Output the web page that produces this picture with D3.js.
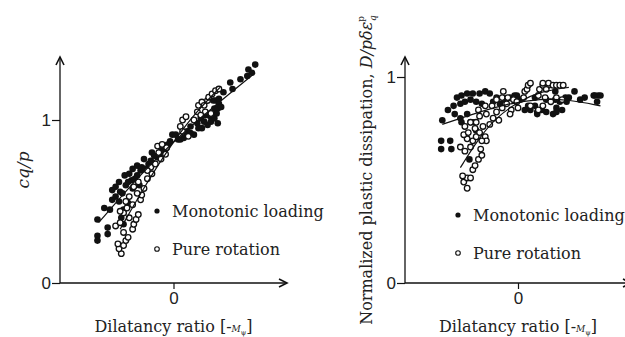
<!DOCTYPE html>
<html>
<head>
<meta charset="utf-8">
<script src="https://cdn.jsdelivr.net/npm/d3@7"></script>
<style>
  body { margin: 0; background: #fff; }
  svg { display: block; }
  .serif { font-family: "DejaVu Serif", "Liberation Serif", serif; }
  .tick text { font-family: "Liberation Sans", Arial, sans-serif; font-size: 17px; fill: #222; }
</style>
</head>
<body>
<div id="chart"></div>
<script>
// Left panel: cq/p vs dilatancy ratio
const monoLeft = [
  [-0.67,0.39],[-0.67,0.29],[-0.67,0.26],[-0.58,0.34],[-0.58,0.30],[-0.61,0.46],[-0.56,0.45],
  [-0.54,0.51],[-0.54,0.57],[-0.51,0.59],[-0.51,0.53],[-0.48,0.62],[-0.47,0.56],[-0.43,0.66],
  [-0.42,0.60],[-0.39,0.67],[-0.37,0.63],[-0.36,0.70],[-0.32,0.72],[-0.32,0.66],[-0.29,0.69],
  [-0.26,0.76],[-0.22,0.73],[-0.19,0.80],[-0.14,0.77],[-0.11,0.83],[-0.07,0.84],[-0.03,0.87],
  [-0.01,0.91],[0.02,0.91],[0.06,0.88],[0.09,0.89],[0.12,0.93],[0.15,0.96],[0.18,0.91],
  [0.21,0.98],[0.24,1.01],[0.25,0.95],[0.28,1.03],[0.30,0.97],[0.33,1.02],[0.36,1.07],
  [0.37,1.12],[0.39,1.07],[0.40,1.10],[0.40,1.13],[0.44,1.17],[0.50,1.23],[0.52,1.19],
  [0.59,1.25],[0.65,1.27],[0.66,1.31],[0.72,1.34],[0.69,1.29],
  [-0.45,0.55],[-0.40,0.62],[-0.34,0.64],[-0.28,0.71],[-0.25,0.70],[-0.20,0.75],[-0.17,0.78],
  [-0.12,0.79],[-0.08,0.82],[-0.05,0.85],[-0.40,0.49],[-0.44,0.45],[-0.48,0.50],[-0.36,0.58],
  [-0.30,0.60],[-0.46,0.40],[-0.44,0.36],[0.30,1.03],[0.33,0.99],[0.36,1.01],[0.38,1.04],
  [0.42,1.08],[0.35,1.12],[0.27,0.99],[0.22,0.95],[0.15,0.92],[0.10,0.91],[0.04,0.88],[0.39,0.98]
];
const rotLeft = [
  [-0.46,0.18],[-0.48,0.21],[-0.49,0.24],[-0.44,0.23],[-0.42,0.26],[-0.40,0.28],[-0.44,0.31],
  [-0.51,0.35],[-0.47,0.37],[-0.36,0.33],[-0.35,0.36],[-0.33,0.39],[-0.31,0.42],[-0.39,0.40],
  [-0.44,0.43],[-0.47,0.44],[-0.41,0.46],[-0.36,0.48],[-0.29,0.51],[-0.28,0.54],[-0.26,0.58],
  [-0.32,0.55],[-0.35,0.59],[-0.39,0.53],[-0.42,0.50],[-0.31,0.62],[-0.23,0.64],[-0.19,0.67],
  [-0.20,0.71],[-0.23,0.69],[-0.16,0.73],[-0.13,0.80],[-0.11,0.76],[-0.14,0.84],[-0.10,0.85],
  [-0.06,0.83],[-0.07,0.79],[0.06,0.96],[0.08,1.00],[0.11,1.02],[0.08,0.93],[0.13,0.90],
  [0.18,1.00],[0.21,1.05],[0.22,1.09],[0.25,1.11],[0.27,1.09],[0.30,1.12],[0.31,1.14],
  [0.34,1.16],[0.37,1.18],[0.40,1.19],[0.28,1.05],[0.33,1.04],[0.24,1.03]
];
const fitMonoLeft = [[-0.66,0.37],[-0.3,0.66],[0,0.87],[0.35,1.08],[0.72,1.29]];
const fitRotLeft = [[-0.47,0.33],[-0.25,0.60],[0,0.87],[0.2,1.05],[0.41,1.20]];

// Right panel: normalized plastic dissipation vs dilatancy ratio
const monoRight = [
  [-0.67,0.79],[-0.68,0.69],[-0.68,0.65],[-0.60,0.69],[-0.59,0.65],[-0.62,0.84],[-0.57,0.86],
  [-0.54,0.90],[-0.50,0.91],[-0.45,0.92],[-0.40,0.92],[-0.34,0.92],[-0.29,0.93],[-0.25,0.92],
  [-0.51,0.87],[-0.47,0.88],[-0.42,0.89],[-0.37,0.88],[-0.32,0.87],[-0.56,0.82],[-0.51,0.80],
  [-0.45,0.82],[-0.50,0.78],[-0.42,0.78],[-0.39,0.78],[-0.22,0.88],[-0.19,0.90],[-0.16,0.87],
  [-0.12,0.89],[-0.07,0.90],[-0.03,0.91],[0.02,0.89],[0.06,0.84],[0.11,0.84],[0.09,0.86],
  [0.17,0.83],[0.15,0.86],[0.21,0.84],[0.25,0.83],[0.31,0.82],[0.34,0.85],[0.39,0.84],
  [0.37,0.88],[0.33,0.93],[0.42,0.90],[0.45,0.90],[0.50,0.93],[0.55,0.89],[0.59,0.90],
  [0.67,0.91],[0.71,0.91],[0.70,0.88],[0.68,0.91],[0.73,0.91],[0.34,0.83],[0.17,0.82],
  [-0.01,0.91],[0.15,0.90],[0.25,0.89],[0.33,0.89],[0.43,0.88],[-0.43,0.60],[-0.37,0.74]
];
const rotRight = [
  [-0.45,0.46],[-0.48,0.49],[-0.45,0.51],[-0.42,0.51],[-0.49,0.52],[-0.40,0.55],[-0.38,0.57],
  [-0.35,0.60],[-0.32,0.62],[-0.33,0.65],[-0.42,0.66],[-0.51,0.66],[-0.47,0.64],[-0.40,0.69],
  [-0.37,0.71],[-0.45,0.70],[-0.48,0.72],[-0.44,0.73],[-0.47,0.76],[-0.42,0.78],[-0.38,0.75],
  [-0.34,0.73],[-0.29,0.71],[-0.28,0.69],[-0.32,0.69],[-0.31,0.76],[-0.25,0.77],[-0.37,0.78],
  [-0.34,0.81],[-0.28,0.82],[-0.22,0.80],[-0.17,0.79],[-0.19,0.83],[-0.23,0.86],[-0.29,0.86],
  [-0.35,0.84],[-0.14,0.85],[-0.10,0.87],[-0.19,0.89],[-0.14,0.90],[-0.13,0.93],[-0.09,0.90],
  [-0.04,0.89],[-0.06,0.84],[-0.01,0.88],[0.00,0.85],[0.05,0.90],[0.06,0.93],[0.08,0.94],
  [0.09,0.96],[0.11,0.97],[0.19,0.94],[0.22,0.96],[0.22,0.97],[0.27,0.96],[0.27,0.97],
  [0.31,0.96],[0.34,0.96],[0.37,0.96],[0.40,0.96],[0.25,0.94],[0.18,0.91],[0.11,0.86],
  [0.18,0.84],[0.22,0.86],[0.24,0.90],[0.34,0.90],[0.39,0.89],[0.29,0.88],[-0.07,0.82]
];
const fitMonoRight = [[-0.67,0.77],[-0.4,0.82],[-0.1,0.87],[0.2,0.895],[0.45,0.89],[0.73,0.86]];
const fitRotRight = [[-0.51,0.56],[-0.35,0.70],[-0.2,0.80],[0,0.88],[0.2,0.93],[0.45,0.95]];

const yTicks = [0, 1];
const xTicks = [0];
const legendLabels = ["Monotonic loading", "Pure rotation"];

const width = 625, height = 337;
const svg = d3.select('#chart').append('svg')
  .attr('width', width)
  .attr('height', height);

function arrowUp(g, x, y) {
  g.append('path')
    .attr('d', `M${x - 4},${y + 8} L${x},${y} L${x + 4},${y + 8}`)
    .attr('fill', 'none').attr('stroke', '#111').attr('stroke-width', 1.6);
}
function arrowRight(g, x, y) {
  g.append('path')
    .attr('d', `M${x - 8},${y - 4} L${x},${y} L${x - 8},${y + 4}`)
    .attr('fill', 'none').attr('stroke', '#111').attr('stroke-width', 1.6);
}

function drawPanel(opts) {
  const g = svg.append('g');
  const x = d3.scaleLinear().domain([-1, 1]).range(opts.xRange);
  const y = d3.scaleLinear().domain([0, 1]).range(opts.yRange);

  // axis lines
  g.append('line')
    .attr('x1', x(-1)).attr('x2', x(-1))
    .attr('y1', y(0)).attr('y2', opts.yTop)
    .attr('stroke', '#111').attr('stroke-width', 1.3);
  g.append('line')
    .attr('x1', x(-1)).attr('x2', x(1))
    .attr('y1', y(0)).attr('y2', y(0))
    .attr('stroke', '#111').attr('stroke-width', 1.3);
  arrowUp(g, x(-1), opts.yTop);
  arrowRight(g, x(1), y(0));

  const ya = g.append('g')
    .attr('transform', `translate(${x(-1)},0)`)
    .call(d3.axisLeft(y).tickValues(yTicks).tickFormat(d3.format('d')).tickSize(8).tickPadding(1));
  ya.select('.domain').remove();
  const xa = g.append('g')
    .attr('transform', `translate(0,${y(0)})`)
    .call(d3.axisBottom(x).tickValues(xTicks).tickFormat(d3.format('d')).tickSize(6).tickPadding(3));
  xa.select('.domain').remove();
  g.selectAll('.tick line').attr('stroke', '#111').attr('stroke-width', 1.2);

  // points
  g.selectAll('.mono').data(opts.mono).enter().append('circle')
    .attr('class', 'mono')
    .attr('cx', d => x(d[0])).attr('cy', d => y(d[1]))
    .attr('r', 3.3).attr('fill', '#111');
  g.selectAll('.rot').data(opts.rot).enter().append('circle')
    .attr('class', 'rot')
    .attr('cx', d => x(d[0])).attr('cy', d => y(d[1]))
    .attr('r', 2.8).attr('fill', '#fff').attr('stroke', '#111').attr('stroke-width', 1.3);

  // fit curves
  const line = d3.line().x(d => x(d[0])).y(d => y(d[1])).curve(d3.curveBasis);
  [opts.fitMono, opts.fitRot].forEach(f => {
    g.append('path').attr('d', line(f))
      .attr('fill', 'none').attr('stroke', '#111').attr('stroke-width', 1.2);
  });

  // legend
  const lg = g.append('g').attr('class', 'serif');
  legendLabels.forEach((lab, i) => {
    const ly = opts.legendY + i * 38;
    if (i === 0) {
      lg.append('circle').attr('cx', opts.legendX).attr('cy', ly).attr('r', 2.6).attr('fill', '#111');
    } else {
      lg.append('circle').attr('cx', opts.legendX).attr('cy', ly).attr('r', 2.3)
        .attr('fill', '#fff').attr('stroke', '#111').attr('stroke-width', 1.1);
    }
    lg.append('text')
      .attr('x', opts.legendX + 15).attr('y', ly + 6)
      .style('font-size', '16px').attr('fill', '#222')
      .text(lab);
  });

  // x label
  const xl = g.append('text').attr('class', 'serif')
    .attr('x', x(0)).attr('y', 332)
    .attr('text-anchor', 'middle')
    .style('font-size', '16px').attr('fill', '#222');
  xl.append('tspan').text('Dilatancy ratio [-');
  xl.append('tspan').style('font-size', '9px').style('font-style', 'italic').text('M');
  xl.append('tspan').style('font-size', '7px').attr('dy', 3).text('ψ');
  xl.append('tspan').attr('dy', -3).text(']');
  return g;
}

drawPanel({
  xRange: [60, 287], yRange: [283, 120], yTop: 57,
  mono: monoLeft, rot: rotLeft, fitMono: fitMonoLeft, fitRot: fitRotLeft,
  legendX: 157, legendY: 211
});
drawPanel({
  xRange: [405, 631], yRange: [283, 77], yTop: 57,
  mono: monoRight, rot: rotRight, fitMono: fitMonoRight, fitRot: fitRotRight,
  legendX: 458, legendY: 215
});

// y labels
svg.append('text').attr('class', 'serif')
  .attr('transform', 'translate(29,170) rotate(-90)')
  .attr('text-anchor', 'middle')
  .style('font-size', '17px').style('font-style', 'italic').attr('fill', '#222')
  .text('cq/p');

const yl = svg.append('text').attr('class', 'serif')
  .attr('transform', 'translate(372,170) rotate(-90)')
  .attr('text-anchor', 'middle')
  .style('font-size', '16px').attr('fill', '#222');
yl.append('tspan').text('Normalized plastic dissipation, ');
yl.append('tspan').style('font-style', 'italic').text('D/pδε');
yl.append('tspan').style('font-size', '9px').attr('dy', -8).text('p');
yl.append('tspan').style('font-size', '9px').style('font-style', 'italic').attr('dx', -5).attr('dy', 12).text('q');
</script>
</body>
</html>
